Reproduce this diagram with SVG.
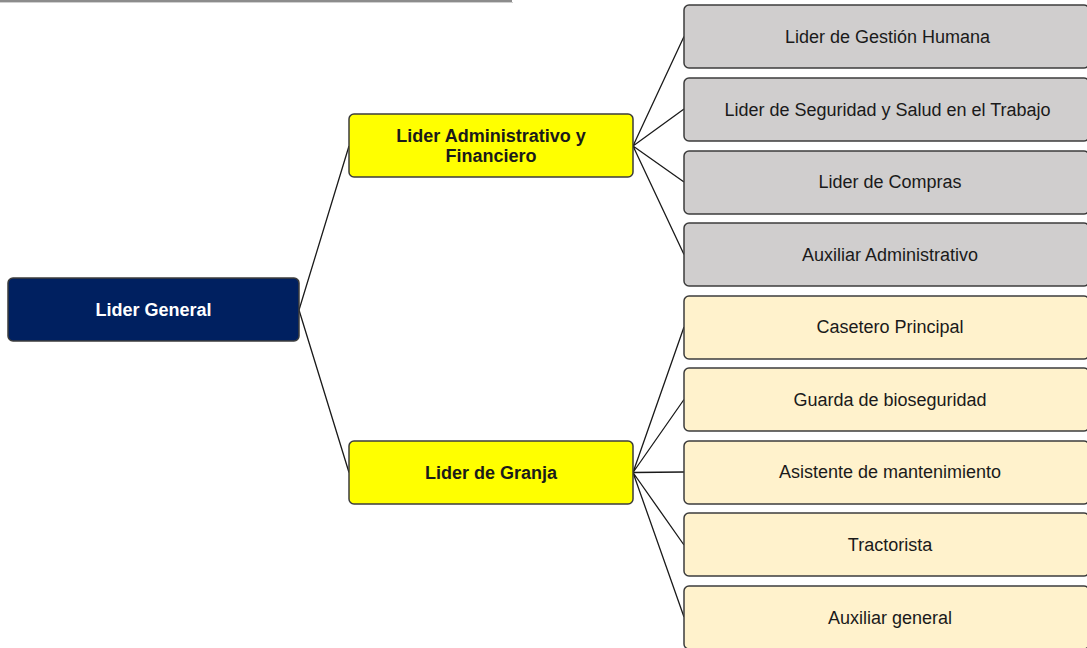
<svg xmlns="http://www.w3.org/2000/svg" width="1087" height="648" viewBox="0 0 1087 648">
<style>
.n{stroke:#3c3c3c;stroke-width:1.5}
.gen{fill:#002060}
.mid{fill:#ffff00}
.gray{fill:#d0cece}
.cream{fill:#fff2cc}
.t{font-family:"Liberation Sans",Arial,sans-serif;font-size:18px;text-anchor:middle;dominant-baseline:central;fill:#1a1a1a}
.b{font-weight:bold}
.w{fill:#ffffff}
.c{fill:none;stroke:#1a1a1a;stroke-width:1.3}
</style>
<rect width="1087" height="648" fill="#ffffff"/>
<line x1="0" y1="1" x2="512" y2="1" stroke="#8c8c8c" stroke-width="2"/>
<line x1="0" y1="2.5" x2="513" y2="2.5" stroke="#d0d0d0" stroke-width="1"/>
<g id="connectors">
<path class="c" d="M299 310 L349 146 M299 310 L349 472.5"/>
<path class="c" d="M633 146 L684 36.5 M633 146 L684 109 M633 146 L684 182 M633 146 L684 254.5"/>
<path class="c" d="M633 472.5 L684 327 M633 472.5 L684 399.5 M633 472.5 L684 472 M633 472.5 L684 545 M633 472.5 L684 617"/>
</g>
<g id="lider-general"><rect class="n gen" x="8" y="278" width="291" height="63" rx="5"/><text class="t b w" x="153.5" y="309.5">Lider General</text></g>
<g id="lider-admin"><rect class="n mid" x="349" y="114" width="284" height="63" rx="5"/><text class="t b" x="491" y="136">Lider Administrativo y</text><text class="t b" x="491" y="156">Financiero</text></g>
<g id="lider-granja"><rect class="n mid" x="349" y="441" width="284" height="63" rx="5"/><text class="t b" x="491" y="472.5">Lider de Granja</text></g>
<g id="gestion-humana"><rect class="n gray" x="684" y="5" width="405" height="63" rx="5"/><text class="t" x="887.5" y="37">Lider de Gestión Humana</text></g>
<g id="seguridad"><rect class="n gray" x="684" y="78" width="405" height="63" rx="5"/><text class="t" x="887.5" y="109.5">Lider de Seguridad y Salud en el Trabajo</text></g>
<g id="compras"><rect class="n gray" x="684" y="151" width="405" height="63" rx="5"/><text class="t" x="890" y="182">Lider de Compras</text></g>
<g id="aux-admin"><rect class="n gray" x="684" y="223" width="405" height="63" rx="5"/><text class="t" x="890" y="254.5">Auxiliar Administrativo</text></g>
<g id="casetero"><rect class="n cream" x="684" y="296" width="405" height="63" rx="5"/><text class="t" x="890" y="327">Casetero Principal</text></g>
<g id="guarda"><rect class="n cream" x="684" y="368" width="405" height="63" rx="5"/><text class="t" x="890" y="399.5">Guarda de bioseguridad</text></g>
<g id="asistente"><rect class="n cream" x="684" y="441" width="405" height="63" rx="5"/><text class="t" x="890" y="472">Asistente de mantenimiento</text></g>
<g id="tractorista"><rect class="n cream" x="684" y="513" width="405" height="63" rx="5"/><text class="t" x="890" y="545">Tractorista</text></g>
<g id="aux-general"><rect class="n cream" x="684" y="586" width="405" height="63" rx="5"/><text class="t" x="890" y="617.5">Auxiliar general</text></g>
</svg>
